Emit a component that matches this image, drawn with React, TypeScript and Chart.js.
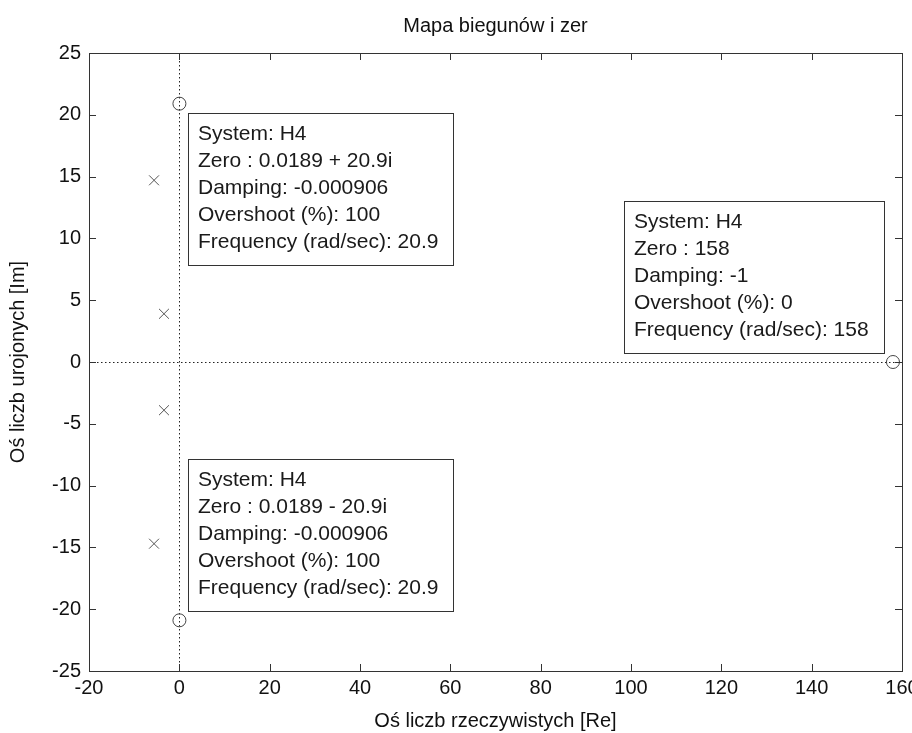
import React, { useEffect, useRef } from "react";
import { Chart, registerables } from "chart.js";

Chart.register(...registerables);

const FONT = "'Liberation Sans', Arial, Helvetica, sans-serif";

const chartTitle = "Mapa biegunów i zer";
const xAxisTitle = "Oś liczb rzeczywistych [Re]";
const yAxisTitle = "Oś liczb urojonych [Im]";

const xMin = -20;
const xMax = 160;
const xStep = 20;
const yMin = -25;
const yMax = 25;
const yStep = 5;

// Poles (x markers)
const poleRe = [-5.6, -3.4, -3.4, -5.6];
const poleIm = [14.7, 3.9, -3.9, -14.7];

// Zeros (o markers)
const zeroRe = [0.0189, 0.0189, 158];
const zeroIm = [20.9, -20.9, 0];

// Data tips attached to the zeros
const tipLines = [
  ["System: H4", "Zero : 0.0189 + 20.9i", "Damping: -0.000906", "Overshoot (%): 100", "Frequency (rad/sec): 20.9"],
  ["System: H4", "Zero : 0.0189 - 20.9i", "Damping: -0.000906", "Overshoot (%): 100", "Frequency (rad/sec): 20.9"],
  ["System: H4", "Zero : 158", "Damping: -1", "Overshoot (%): 0", "Frequency (rad/sec): 158"],
];
// direction of each tip box from its zero: [horizontal, vertical] (+1 right/down, -1 left/up)
const tipSide = [
  [1, 1],
  [1, -1],
  [-1, -1],
];

const matlabAxes = {
  id: "matlabAxes",
  beforeDatasetsDraw(chart: any) {
    const { ctx, chartArea: a, scales } = chart;
    const x = scales.x;
    const y = scales.y;
    ctx.save();
    ctx.strokeStyle = "#222";
    ctx.lineWidth = 1;
    ctx.setLineDash([1.5, 2.5]);
    const x0 = Math.round(x.getPixelForValue(0)) + 0.5;
    const y0 = Math.round(y.getPixelForValue(0)) + 0.5;
    ctx.beginPath();
    ctx.moveTo(x0, a.top);
    ctx.lineTo(x0, a.bottom);
    ctx.moveTo(a.left, y0);
    ctx.lineTo(a.right, y0);
    ctx.stroke();
    ctx.restore();
  },
  afterDatasetsDraw(chart: any) {
    const { ctx, scales } = chart;
    const x = scales.x;
    const y = scales.y;
    ctx.save();
    ctx.font = `21px ${FONT}`;
    const lineGap = 27;
    const gap = 9;
    for (let i = 0; i < tipLines.length; i++) {
      const lines = tipLines[i];
      const px = x.getPixelForValue(zeroRe[i]);
      const py = y.getPixelForValue(zeroIm[i]);
      let w = 0;
      for (const l of lines) w = Math.max(w, ctx.measureText(l).width);
      w = Math.round(w + 25);
      const h = lines.length * lineGap + 17;
      const [sx, sy] = tipSide[i];
      const left = Math.round(sx > 0 ? px + gap : px - gap - w);
      const top = Math.round(sy > 0 ? py + gap : py - gap - h);
      ctx.fillStyle = "#fff";
      ctx.fillRect(left, top, w, h);
      ctx.strokeStyle = "#333";
      ctx.lineWidth = 1;
      ctx.strokeRect(left + 0.5, top + 0.5, w, h);
      ctx.fillStyle = "#1a1a1a";
      ctx.textAlign = "left";
      ctx.textBaseline = "middle";
      lines.forEach((l, k) => {
        ctx.fillText(l, left + 10, top + 21 + k * lineGap);
      });
    }
    ctx.restore();
  },
  afterDraw(chart: any) {
    const { ctx, chartArea: a, scales } = chart;
    const x = scales.x;
    const y = scales.y;
    const tl = 7;
    ctx.save();
    ctx.strokeStyle = "#333";
    ctx.lineWidth = 1;
    ctx.beginPath();
    x.ticks.forEach((t: any) => {
      const p = Math.round(x.getPixelForValue(t.value)) + 0.5;
      ctx.moveTo(p, a.bottom);
      ctx.lineTo(p, a.bottom - tl);
      ctx.moveTo(p, a.top);
      ctx.lineTo(p, a.top + tl);
    });
    y.ticks.forEach((t: any) => {
      const p = Math.round(y.getPixelForValue(t.value)) + 0.5;
      ctx.moveTo(a.left, p);
      ctx.lineTo(a.left + tl, p);
      ctx.moveTo(a.right, p);
      ctx.lineTo(a.right - tl, p);
    });
    ctx.stroke();
    ctx.strokeRect(
      Math.round(a.left) + 0.5,
      Math.round(a.top) + 0.5,
      Math.round(a.right - a.left),
      Math.round(a.bottom - a.top)
    );
    ctx.restore();
  },
};

export default function App() {
  const ref = useRef<HTMLCanvasElement | null>(null);

  useEffect(() => {
    document.body.style.margin = "0";
    document.body.style.background = "#fff";
    if (!ref.current) return;
    const chart = new Chart(ref.current, {
      type: "scatter",
      data: {
        datasets: [
          {
            label: "Poles",
            data: poleRe.map((v, i) => ({ x: v, y: poleIm[i] })),
            pointStyle: "crossRot",
            radius: 7,
            borderColor: "#555",
            backgroundColor: "#555",
            borderWidth: 1,
          },
          {
            label: "Zeros",
            data: zeroRe.map((v, i) => ({ x: v, y: zeroIm[i] })),
            pointStyle: "circle",
            radius: 6.5,
            borderColor: "#444",
            backgroundColor: "rgba(0,0,0,0)",
            borderWidth: 1,
          },
        ],
      },
      options: {
        animation: false,
        responsive: false,
        devicePixelRatio: 1,
        events: [],
        layout: { padding: { left: 0, right: 10, top: 0, bottom: 0 } },
        plugins: {
          legend: { display: false },
          tooltip: { enabled: false },
          title: {
            display: true,
            text: chartTitle,
            fullSize: false,
            color: "#111",
            font: { family: FONT, size: 20, weight: "normal" },
            padding: { top: 14, bottom: 15 },
          },
        },
        scales: {
          x: {
            type: "linear",
            min: xMin,
            max: xMax,
            ticks: {
              stepSize: xStep,
              autoSkip: false,
              maxRotation: 0,
              padding: 5,
              color: "#111",
              font: { family: FONT, size: 20 },
            },
            grid: { display: false, drawTicks: false },
            border: { display: false },
            title: {
              display: true,
              text: xAxisTitle,
              color: "#111",
              font: { family: FONT, size: 20 },
              padding: { top: 0, bottom: 0 },
            },
            afterFit(s: any) {
              s.height = 62;
              s.paddingLeft = 0;
              s.paddingRight = 0;
            },
          },
          y: {
            type: "linear",
            min: yMin,
            max: yMax,
            ticks: {
              stepSize: yStep,
              autoSkip: false,
              padding: 8,
              color: "#111",
              font: { family: FONT, size: 20 },
            },
            grid: { display: false, drawTicks: false },
            border: { display: false },
            title: {
              display: true,
              text: yAxisTitle,
              color: "#111",
              font: { family: FONT, size: 20 },
              padding: { top: 6, bottom: 0 },
            },
            afterFit(s: any) {
              s.width = 89;
              s.paddingTop = 0;
              s.paddingBottom = 0;
            },
          },
        },
      },
      plugins: [matlabAxes],
    } as any);
    return () => chart.destroy();
  }, []);

  return <canvas ref={ref} width={912} height={733} style={{ display: "block" }} />;
}
